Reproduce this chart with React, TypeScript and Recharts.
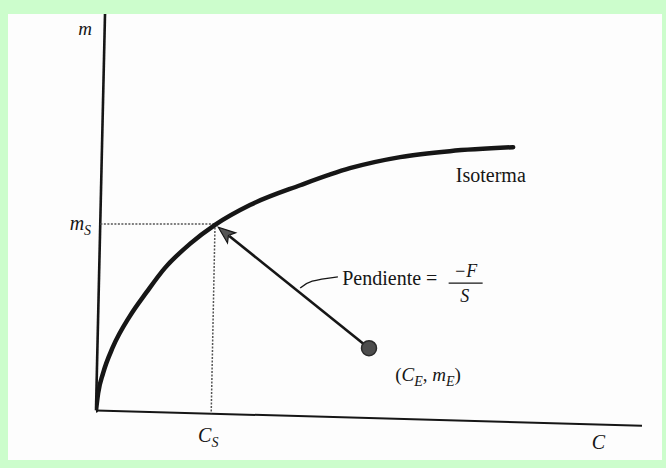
import {
  ComposedChart, Line, XAxis, YAxis, ReferenceLine, ReferenceDot,
} from 'recharts';

// isotherm m(C)
const isotherm = [
  { c: 0, m: 0 },
  { c: 0.04, m: 0.44 },
  { c: 0.13, m: 0.94 },
  { c: 0.31, m: 1.6 },
  { c: 0.62, m: 2.38 },
  { c: 0.93, m: 2.99 },
  { c: 1.26, m: 3.59 },
  { c: 1.72, m: 4.2 },
  { c: 2.18, m: 4.68 },
  { c: 2.82, m: 5.18 },
  { c: 3.74, m: 5.68 },
  { c: 4.65, m: 6.11 },
  { c: 5.57, m: 6.39 },
  { c: 6.48, m: 6.54 },
  { c: 7.64, m: 6.64 },
];

// equilibrium point (C_S, m_S) and feed point (C_E, m_E)
const cS = 2.18;
const mS = 4.7;
const cE = 5.0;
const mE = 1.57;

// hand-drawn axes (slightly skewed like the printed figure)
const yAxisLine = [{ x: 0, y: 0 }, { x: 0.165, y: 10 }];
const xAxisLine = [{ x: 0, y: 0 }, { x: 10, y: -0.39 }];

// leader from the slope line to its caption
const leader = [
  { c: 3.74, m: 3.09 },
  { c: 3.96, m: 3.26 },
  { c: 4.43, m: 3.37 },
];

const INK = '#161616';
const SERIF = '"Liberation Serif", "DejaVu Serif", serif';

type Anchor = 'start' | 'middle' | 'end';

const textShape = (node: React.ReactNode, anchor: Anchor = 'start', size = 20) =>
  (p: any) => (
    <text x={p.cx} y={p.cy} textAnchor={anchor} fontFamily={SERIF} fontSize={size} fill={INK}>
      {node}
    </text>
  );

const sub = (s: string) => (
  <tspan fontSize={14} fontStyle="italic" dy={5}>{s}</tspan>
);

const Fraction = (p: any) => (
  <g fontFamily={SERIF} fill={INK} textAnchor="middle">
    <text x={p.cx} y={p.cy - 6} fontSize={18} fontStyle="italic">−F</text>
    <line x1={p.cx - 17} y1={p.cy} x2={p.cx + 17} y2={p.cy} stroke={INK} strokeWidth={1.3} />
    <text x={p.cx - 1} y={p.cy + 19} fontSize={18} fontStyle="italic">S</text>
  </g>
);

const Arrow = (p: any) => {
  const { x1, y1, x2, y2 } = p;
  const a = Math.atan2(y2 - y1, x2 - x1);
  const len = 17;
  const half = 6.5;
  const bx = x2 - len * Math.cos(a);
  const by = y2 - len * Math.sin(a);
  const pts = [
    [x2, y2],
    [bx + half * Math.sin(a), by - half * Math.cos(a)],
    [x2 - (len - 4) * Math.cos(a), y2 - (len - 4) * Math.sin(a)],
    [bx - half * Math.sin(a), by + half * Math.cos(a)],
  ].map((q) => q.join(',')).join(' ');
  return (
    <g>
      <line x1={x1} y1={y1} x2={bx + 3 * Math.cos(a)} y2={by + 3 * Math.sin(a)} stroke={INK} strokeWidth={2.6} />
      <polygon points={pts} fill="#555" stroke={INK} strokeWidth={1.2} strokeLinejoin="miter" />
    </g>
  );
};

const labels = [
  { x: -0.2, y: 9.47, anchor: 'middle' as Anchor, node: <tspan fontStyle="italic">m</tspan>, size: 19 },
  { x: -0.09, y: 4.55, anchor: 'end' as Anchor, node: <><tspan fontStyle="italic">m</tspan>{sub('S')}</>, size: 20 },
  { x: 1.87, y: -0.8, anchor: 'start' as Anchor, node: <><tspan fontStyle="italic">C</tspan>{sub('S')}</>, size: 20 },
  { x: 9.08, y: -0.97, anchor: 'start' as Anchor, node: <tspan fontStyle="italic">C</tspan>, size: 20 },
  { x: 6.59, y: 5.76, anchor: 'start' as Anchor, node: 'Isoterma', size: 20 },
  { x: 4.51, y: 3.16, anchor: 'start' as Anchor, node: 'Pendiente =', size: 20 },
  {
    x: 5.48, y: 0.74, anchor: 'start' as Anchor, size: 19,
    node: (
      <>
        (<tspan fontStyle="italic">C</tspan>{sub('E')}
        <tspan dy={-5}>, </tspan>
        <tspan fontStyle="italic">m</tspan>{sub('E')}
        <tspan dy={-5}>)</tspan>
      </>
    ),
  },
];

export default function App() {
  return (
    <div style={{ position: 'absolute', left: 0, top: 0, width: 666, height: 468, background: '#ccfdcc' }}>
      <div style={{ position: 'absolute', left: 8, top: 14, width: 654, height: 446, background: '#fdfdfd' }} />
      <div style={{ position: 'absolute', left: 0, top: 0 }}>
        <ComposedChart width={666} height={468} margin={{ top: 14, right: 24, bottom: 14, left: 96 }}>
          <XAxis type="number" dataKey="c" domain={[0, 10]} hide allowDataOverflow />
          <YAxis type="number" dataKey="m" domain={[-1.1, 10]} hide allowDataOverflow />

          <ReferenceLine segment={yAxisLine} ifOverflow="visible" stroke={INK} strokeWidth={2.6} />
          <ReferenceLine segment={xAxisLine} ifOverflow="visible" stroke={INK} strokeWidth={2} />

          <ReferenceLine
            segment={[{ x: 0.08, y: mS }, { x: cS, y: mS }]}
            ifOverflow="visible" stroke="#555" strokeWidth={1.5} strokeDasharray="2 1.5"
          />
          <ReferenceLine
            segment={[{ x: cS, y: mS }, { x: cS - 0.07, y: -0.07 }]}
            ifOverflow="visible" stroke="#555" strokeWidth={1.5} strokeDasharray="2 1.5"
          />

          <Line
            data={isotherm} dataKey="m" type="monotone" stroke={INK} strokeWidth={4.5}
            dot={false} activeDot={false} isAnimationActive={false} strokeLinecap="round"
          />
          <Line
            data={leader} dataKey="m" type="natural" stroke={INK} strokeWidth={1.3}
            dot={false} activeDot={false} isAnimationActive={false}
          />

          <ReferenceLine
            segment={[{ x: cE, y: mE }, { x: cS + 0.06, y: mS - 0.08 }]}
            ifOverflow="visible" shape={Arrow}
          />
          <ReferenceDot x={cE} y={mE} r={7.5} fill="#4d4d4d" stroke="#2a2a2a" strokeWidth={1.5} ifOverflow="visible" />

          {labels.map((l, i) => (
            <ReferenceDot
              key={i} x={l.x} y={l.y} r={0} ifOverflow="visible"
              shape={textShape(l.node, l.anchor, l.size)}
            />
          ))}
          <ReferenceDot x={6.77} y={3.21} r={0} ifOverflow="visible" shape={Fraction} />
        </ComposedChart>
      </div>
    </div>
  );
}
